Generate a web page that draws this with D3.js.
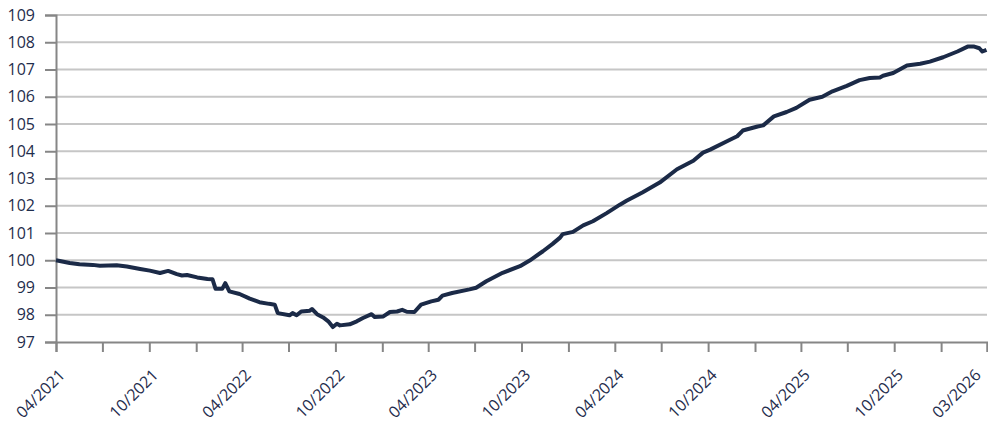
<!DOCTYPE html>
<html>
<head>
<meta charset="utf-8">
<script src="https://cdn.jsdelivr.net/npm/d3@7"></script>
<style>
	body { margin: 0; background: #fff; }
	text { font-family: "Open Sans", "Noto Sans", sans-serif; fill: #1f2d4d; }
</style>
</head>
<body>
<svg id="chart"></svg>
<script>
'use strict'

var WIDTH = 988,
	HEIGHT = 421;

var margin = { top: 15, right: 1, bottom: 79, left: 56 };

// dates of the points
var dates = [
	"2021-04-01", "2021-04-28", "2021-05-17", "2021-06-12", "2021-06-26", "2021-07-29",
	"2021-08-18", "2021-09-13", "2021-10-02", "2021-10-22", "2021-11-07", "2021-11-24",
	"2021-12-04", "2021-12-14", "2022-01-03", "2022-01-23", "2022-02-02", "2022-02-08",
	"2022-02-21", "2022-02-27", "2022-03-07", "2022-03-27", "2022-04-16", "2022-05-05",
	"2022-05-24", "2022-06-04", "2022-06-10", "2022-07-03", "2022-07-09", "2022-07-17",
	"2022-07-26", "2022-08-12", "2022-08-16", "2022-08-26", "2022-09-07", "2022-09-17",
	"2022-09-26", "2022-10-04", "2022-10-10", "2022-10-29", "2022-11-12", "2022-11-24",
	"2022-12-11", "2022-12-17", "2023-01-03", "2023-01-16", "2023-01-30", "2023-02-09",
	"2023-02-18", "2023-03-05", "2023-03-18", "2023-04-07", "2023-04-21", "2023-04-29",
	"2023-05-18", "2023-06-21", "2023-07-04", "2023-07-24", "2023-08-25", "2023-09-28",
	"2023-10-17", "2023-11-12", "2023-12-01", "2023-12-15", "2023-12-21", "2024-01-10",
	"2024-01-30", "2024-02-18", "2024-03-16", "2024-04-11", "2024-04-24", "2024-05-25",
	"2024-06-28", "2024-08-01", "2024-09-02", "2024-09-21", "2024-10-05", "2024-11-07",
	"2024-11-27", "2024-12-08", "2025-01-06", "2025-01-17", "2025-02-07", "2025-03-04",
	"2025-03-23", "2025-04-18", "2025-05-13", "2025-06-02", "2025-06-30", "2025-07-25",
	"2025-08-14", "2025-09-03", "2025-09-09", "2025-09-29", "2025-10-26", "2025-11-21",
	"2025-12-10", "2026-01-05", "2026-02-02", "2026-02-22", "2026-03-07", "2026-03-17",
	"2026-03-23", "2026-03-31"
];

var values = [
	100.00, 99.90, 99.85, 99.83, 99.80, 99.82,
	99.77, 99.68, 99.62, 99.53, 99.61, 99.49,
	99.44, 99.46, 99.37, 99.31, 99.30, 98.95,
	98.95, 99.16, 98.86, 98.76, 98.59, 98.46,
	98.40, 98.37, 98.06, 97.98, 98.06, 97.98,
	98.12, 98.15, 98.21, 98.02, 97.90, 97.76,
	97.55, 97.67, 97.61, 97.65, 97.76, 97.88,
	98.02, 97.92, 97.94, 98.10, 98.12, 98.18,
	98.11, 98.10, 98.37, 98.49, 98.55, 98.70,
	98.80, 98.93, 98.99, 99.23, 99.54, 99.78,
	99.99, 100.33, 100.60, 100.82, 100.96, 101.04,
	101.28, 101.43, 101.73, 102.04, 102.18, 102.49,
	102.85, 103.34, 103.65, 103.95, 104.06, 104.37,
	104.55, 104.76, 104.91, 104.95, 105.28, 105.44,
	105.59, 105.89, 106.00, 106.20, 106.40, 106.61,
	106.69, 106.71, 106.77, 106.87, 107.15, 107.21,
	107.29, 107.45, 107.66, 107.84, 107.84, 107.78,
	107.66, 107.72
];

var yTicks = [97, 98, 99, 100, 101, 102, 103, 104, 105, 106, 107, 108, 109];

var xLabels = ["04/2021", "10/2021", "04/2022", "10/2022", "04/2023", "10/2023",
	"04/2024", "10/2024", "04/2025", "10/2025", "03/2026"];

var parseDate = d3.timeParse("%Y-%m-%d");

var data = dates.map(function(d, i) {
	return { date: parseDate(d), value: values[i] };
});

var innerW = WIDTH - margin.left - margin.right,
	innerH = HEIGHT - margin.top - margin.bottom;

var startDate = new Date(2021, 3, 1),
	endDate = new Date(2026, 3, 1);

var x = d3.scaleTime()
	.domain([startDate, endDate])
	.range([0, innerW]);

var y = d3.scaleLinear()
	.domain([97, 109])
	.range([innerH, 0]);

var svg = d3.select("#chart")
	.attr("width", WIDTH)
	.attr("height", HEIGHT);

var g = svg.append("g")
	.attr("transform", "translate(" + margin.left + "," + margin.top + ")");

// horizontal grid
g.selectAll(".grid")
	.data(yTicks.slice(1))
	.enter().append("line")
	.attr("x1", 0)
	.attr("x2", innerW)
	.attr("y1", function(d) { return y(d); })
	.attr("y2", function(d) { return y(d); })
	.style("stroke", "#c6c6c6")
	.style("stroke-width", 2);

// y axis
var yAxis = g.append("g")
	.call(d3.axisLeft(y).tickValues(yTicks).tickSize(11).tickPadding(10).tickFormat(d3.format("d")));

// x axis, tick every 3 months from 04/2021
var xTickDates = d3.range(0, 21).map(function(i) { return d3.timeMonth.offset(startDate, i * 3); });

var xAxis = g.append("g")
	.attr("transform", "translate(0," + innerH + ")")
	.call(d3.axisBottom(x).tickValues(xTickDates).tickSize(10).tickFormat(""));

[yAxis, xAxis].forEach(function(ax) {
	ax.select(".domain").style("stroke", "#868686").style("stroke-width", 2);
	ax.selectAll(".tick line").style("stroke", "#868686").style("stroke-width", 2);
});

yAxis.selectAll("text")
	.style("font-size", "16px")
	.style("fill", "#1f2d4d");

// rotated labels every 6 months
var labelDates = xTickDates.filter(function(d, i) { return i % 2 === 0; });

g.selectAll(".xlabel")
	.data(labelDates)
	.enter().append("text")
	.attr("transform", function(d, i) {
		// last label pulled in a bit so it stays inside the page
		var dx = i === labelDates.length - 1 ? -9 : 6;
		return "translate(" + (x(d) + dx) + "," + (innerH + 30) + ") rotate(-45)";
	})
	.attr("text-anchor", "end")
	.attr("dy", "0.35em")
	.style("font-size", "16px")
	.text(function(d, i) { return xLabels[i]; });

// series
var line = d3.line()
	.x(function(d) { return x(d.date); })
	.y(function(d) { return y(d.value); });

g.append("path")
	.datum(data)
	.attr("d", line)
	.style("fill", "none")
	.style("stroke", "#1b2a47")
	.style("stroke-width", 4)
	.style("stroke-linejoin", "round");
</script>
</body>
</html>
